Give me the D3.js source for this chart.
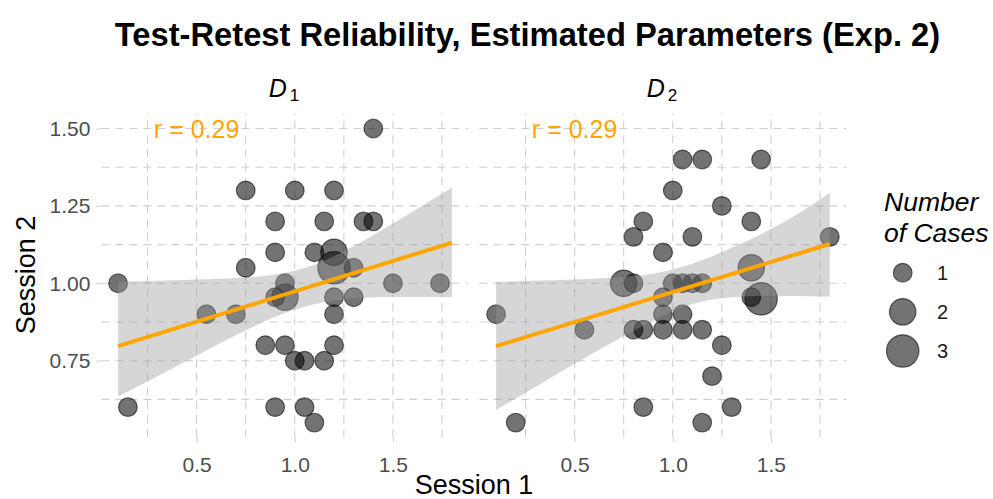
<!DOCTYPE html>
<html>
<head>
<meta charset="utf-8">
<script src="https://cdn.jsdelivr.net/npm/d3@7"></script>
<style>
  body { margin: 0; background: #fff; }
  svg { display: block; }
  text { font-family: "Liberation Sans", Arial, sans-serif; }
</style>
</head>
<body>
<svg id="chart" width="993" height="499"></svg>
<script>
// values
var d1Session1 = [0.1, 0.15, 0.55, 0.7, 0.75, 0.75, 0.85, 0.9, 0.9, 0.9, 0.9, 0.95, 0.95, 0.95,
                  1.0, 1.0, 1.05, 1.05, 1.1, 1.1, 1.15, 1.15, 1.2, 1.2, 1.2, 1.2, 1.2, 1.2,
                  1.3, 1.3, 1.35, 1.4, 1.4, 1.5, 1.74];
var d1Session2 = [1.0, 0.6, 0.9, 0.9, 1.3, 1.05, 0.8, 1.2, 1.1, 0.955, 0.6, 1.0, 0.955, 0.8,
                  1.3, 0.75, 0.75, 0.6, 1.1, 0.55, 1.2, 0.75, 1.3, 1.1, 1.05, 0.955, 0.9, 0.8,
                  1.05, 0.955, 1.2, 1.2, 1.5, 1.0, 1.0];
var d1Count    = [1, 1, 1, 1, 1, 1, 1, 1, 1, 1, 1, 1, 2, 1,
                  1, 1, 1, 1, 1, 1, 1, 1, 1, 2, 3, 1, 1, 1,
                  1, 1, 1, 1, 1, 1, 1];

var d2Session1 = [0.1, 0.2, 0.55, 0.75, 0.8, 0.8, 0.8, 0.85, 0.85, 0.85, 0.95, 0.95, 0.95, 0.95,
                  1.0, 1.0, 1.05, 1.05, 1.05, 1.05, 1.1, 1.1, 1.15, 1.15, 1.15, 1.15, 1.2,
                  1.25, 1.25, 1.3, 1.4, 1.4, 1.4, 1.45, 1.45, 1.8];
var d2Session2 = [0.9, 0.55, 0.85, 1.0, 1.15, 1.0, 0.85, 1.2, 0.85, 0.6, 1.1, 0.955, 0.9, 0.85,
                  1.3, 1.0, 1.4, 1.0, 0.9, 0.85, 1.15, 1.0, 1.4, 1.0, 0.85, 0.55, 0.7,
                  1.25, 0.8, 0.6, 1.2, 1.05, 0.955, 1.4, 0.95, 1.15];
var d2Count    = [1, 1, 1, 2, 1, 1, 1, 1, 1, 1, 1, 1, 1, 1,
                  1, 1, 1, 1, 1, 1, 1, 1, 1, 1, 1, 1, 1,
                  1, 1, 1, 1, 2, 1, 1, 3, 1];

// fitted line and confidence band
var bandX   = [0.1, 0.3, 0.5, 0.7, 0.9, 1.1, 1.3, 1.5, 1.7, 1.8];
var d1Upper = [1.005, 1.008, 1.012, 1.017, 1.028, 1.06, 1.12, 1.193, 1.27, 1.309];
var d1Lower = [0.634, 0.70, 0.766, 0.832, 0.892, 0.932, 0.952, 0.956, 0.956, 0.955];
var d2Upper = [1.005, 1.008, 1.012, 1.019, 1.031, 1.063, 1.115, 1.175, 1.25, 1.292];
var d2Lower = [0.591, 0.665, 0.74, 0.812, 0.88, 0.933, 0.955, 0.96, 0.958, 0.957];
var fitX  = [0.1, 1.8];
var d1Fit = [0.797, 1.131];
var d2Fit = [0.797, 1.127];

var xTicks = [0.5, 1.0, 1.5];
var xMinor = [0.25, 0.75, 1.25, 1.75];
var yTicks = [0.75, 1.0, 1.25, 1.5];
var yMinor = [0.625, 0.875, 1.125, 1.375];
var countLevels = [1, 2, 3];
var panelNames = ["1", "2"];
var corrLabels = ["r = 0.29", "r = 0.29"];

var svg = d3.select("#chart");
var gridColor = "#cfcfcf";

var y = d3.scaleLinear().domain([0.5025, 1.5475]).range([437.3, 113.8]);
var size = d3.scaleSqrt().domain([0, 3]).range([0, 16.2]);

var panels = [
  {x0: 101.4, x1: 468.5, s1: d1Session1, s2: d1Session2, n: d1Count, up: d1Upper, lo: d1Lower, fit: d1Fit},
  {x0: 479.4, x1: 846.5, s1: d2Session1, s2: d2Session2, n: d2Count, up: d2Upper, lo: d2Lower, fit: d2Fit}
];

panels.forEach(function(p, i) {
  var x = d3.scaleLinear().domain([0.015, 1.885]).range([p.x0, p.x1]);
  var g = svg.append("g");

  // grid
  g.selectAll(".hg").data(yMinor.concat(yTicks)).enter().append("line")
    .attr("x1", p.x0).attr("x2", p.x1)
    .attr("y1", function(d) { return y(d); }).attr("y2", function(d) { return y(d); })
    .attr("stroke", gridColor).attr("stroke-width", 1.1).attr("stroke-dasharray", "8,6");
  g.selectAll(".vg").data(xMinor.concat(xTicks)).enter().append("line")
    .attr("y1", y.range()[0]).attr("y2", y.range()[1])
    .attr("x1", function(d) { return x(d); }).attr("x2", function(d) { return x(d); })
    .attr("stroke", gridColor).attr("stroke-width", 1.1).attr("stroke-dasharray", "8,6");

  // axes
  var xa = g.append("g").attr("transform", "translate(0," + y.range()[0] + ")")
    .call(d3.axisBottom(x).tickValues(xTicks).tickFormat(d3.format(".1f")).tickSize(5).tickPadding(15));
  xa.select(".domain").remove();
  xa.selectAll("line").attr("stroke", gridColor);
  xa.selectAll("text").attr("font-size", 21).attr("fill", "#4d4d4d").style("font-family", '"Liberation Sans", Arial, sans-serif');

  if (i === 0) {
    var ya = g.append("g").attr("transform", "translate(" + p.x0 + ",0)")
      .call(d3.axisLeft(y).tickValues(yTicks).tickFormat(d3.format(".2f")).tickSize(5).tickPadding(6));
    ya.select(".domain").remove();
    ya.selectAll("line").attr("stroke", gridColor);
    ya.selectAll("text").attr("font-size", 21).attr("fill", "#4d4d4d").style("font-family", '"Liberation Sans", Arial, sans-serif');
  }

  // points
  g.selectAll(".pt").data(p.s1).enter().append("circle")
    .attr("cx", function(d) { return x(d); })
    .attr("cy", function(d, j) { return y(p.s2[j]); })
    .attr("r", function(d, j) { return size(p.n[j]); })
    .attr("fill", "#000").attr("fill-opacity", 0.55)
    .attr("stroke", "#000").attr("stroke-opacity", 0.55).attr("stroke-width", 1.2);

  // band + fit
  var area = d3.area().curve(d3.curveMonotoneX)
    .x(function(d) { return x(d); })
    .y0(function(d, j) { return y(p.lo[j]); })
    .y1(function(d, j) { return y(p.up[j]); });
  g.append("path").attr("d", area(bandX)).attr("fill", "#999").attr("fill-opacity", 0.4);

  var line = d3.line().x(function(d) { return x(d); }).y(function(d, j) { return y(p.fit[j]); });
  g.append("path").attr("d", line(fitX)).attr("stroke", "#FFA500").attr("stroke-width", 4).attr("fill", "none");

  // correlation label
  g.append("text").attr("x", x(0.5)).attr("y", y(1.5) + 9)
    .attr("text-anchor", "middle").attr("font-size", 25).attr("fill", "#FFA500")
    .text(corrLabels[i]);

  // facet label
  var strip = g.append("text").attr("x", (p.x0 + p.x1) / 2 - 1).attr("y", 97).attr("text-anchor", "middle");
  strip.append("tspan").attr("font-size", 25).attr("font-style", "italic").text("D");
  strip.append("tspan").attr("font-size", 17).attr("dx", 3).attr("dy", 4).text(panelNames[i]);
});

// titles
svg.append("text").attr("x", 527.5).attr("y", 46).attr("text-anchor", "middle")
  .attr("font-size", 32.7).attr("font-weight", "bold").attr("fill", "#000")
  .text("Test-Retest Reliability, Estimated Parameters (Exp. 2)");
svg.append("text").attr("x", 474).attr("y", 494).attr("text-anchor", "middle")
  .attr("font-size", 27).attr("fill", "#000").text("Session 1");
svg.append("text").attr("transform", "translate(35,275) rotate(-90)").attr("text-anchor", "middle")
  .attr("font-size", 27).attr("fill", "#000").text("Session 2");

// legend
var lg = svg.append("g");
lg.append("text").attr("x", 884).attr("y", 211).attr("font-size", 26.5).attr("font-style", "italic").text("Number");
lg.append("text").attr("x", 884).attr("y", 242).attr("font-size", 26.5).attr("font-style", "italic").text("of Cases");
var keyY = d3.scalePoint().domain(countLevels).range([272.7, 351]);
lg.selectAll(".key").data(countLevels).enter().append("circle")
  .attr("cx", 902.7).attr("cy", function(d) { return keyY(d); })
  .attr("r", function(d) { return size(d); })
  .attr("fill", "#000").attr("fill-opacity", 0.55)
  .attr("stroke", "#000").attr("stroke-opacity", 0.55).attr("stroke-width", 1.2);
lg.selectAll(".kl").data(countLevels).enter().append("text")
  .attr("x", 937).attr("y", function(d) { return keyY(d) + 7; })
  .attr("font-size", 20).attr("fill", "#1a1a1a").text(function(d) { return d; });
</script>
</body>
</html>
